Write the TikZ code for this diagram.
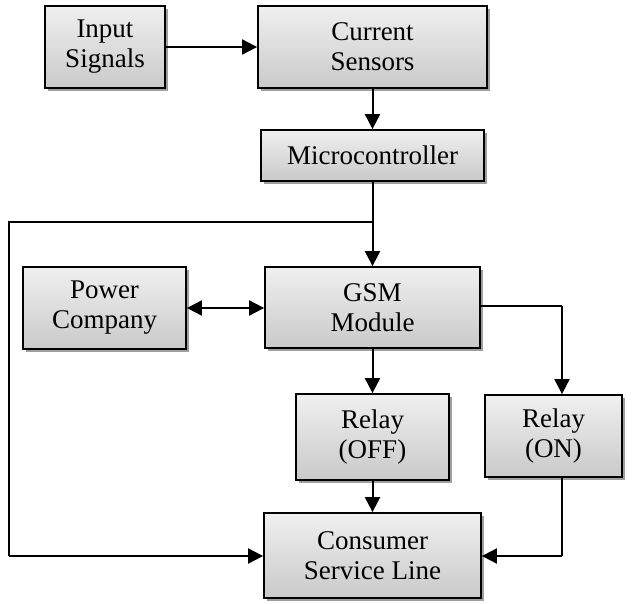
\documentclass[tikz,border=0pt]{standalone}
\usepackage{fontspec}
\setmainfont{Liberation Serif}
\usetikzlibrary{arrows.meta,shadows}
\begin{document}
\begin{tikzpicture}[x=1pt,y=-1pt,
  blk/.style={draw=black, line width=1.8pt, top color=gray!12, bottom color=gray!42,
    drop shadow={shadow xshift=2.5pt, shadow yshift=-2.5pt, fill=gray!75, opacity=1},
    align=center, inner sep=0pt, font=\fontsize{27}{30}\selectfont},
  arr/.style={line width=2pt, -{Triangle[length=15pt,width=15pt]}},
  ln/.style={line width=2pt}]
\useasboundingbox (0,0) rectangle (635,603);
\node[blk, minimum width=120pt, minimum height=82pt] (inp) at (105,47) {Input\\Signals};
\node[blk, minimum width=229pt, minimum height=82pt] (cur) at (372.5,47) {Current\\Sensors};
\node[blk, minimum width=223pt, minimum height=51pt] (mcu) at (372.5,155.5) {Microcontroller};
\node[blk, minimum width=215pt, minimum height=81pt] (gsm) at (372.5,307.5) {GSM\\Module};
\node[blk, minimum width=163pt, minimum height=82pt] (pwr) at (104.5,308) {Power\\Company};
\node[blk, minimum width=153pt, minimum height=86pt] (roff) at (372.5,437) {Relay\\(OFF)};
\node[blk, minimum width=137pt, minimum height=82pt] (ron) at (553.5,436) {Relay\\(ON)};
\node[blk, minimum width=217pt, minimum height=85pt] (con) at (372.5,555.5) {Consumer\\Service Line};
\coordinate (j) at (372.5,222);
\coordinate (lt) at (9,222);
\coordinate (lb) at (9,556);
\coordinate (rt) at (562,306);
\coordinate (rb) at (562,556);
\draw[arr] (inp.east) -- (cur.west);
\draw[arr] (cur.south) -- (mcu.north);
\draw[arr] (mcu.south) -- (gsm.north);
\draw[ln] (j) -- (lt) -- (lb);
\draw[arr] (lb) -- (lb -| con.west);
\draw[arr, {Triangle[length=15pt,width=15pt]}-{Triangle[length=15pt,width=15pt]}] (pwr.east) -- (pwr.east -| gsm.west);
\draw[ln] (rt -| gsm.east) -- (rt);
\draw[arr] (rt) -- (rt |- ron.north);
\draw[arr] (gsm.south) -- (roff.north);
\draw[arr] (roff.south) -- (con.north);
\draw[ln] (rb |- ron.south) -- (rb);
\draw[arr] (rb) -- (rb -| con.east);
\end{tikzpicture}
\end{document}
